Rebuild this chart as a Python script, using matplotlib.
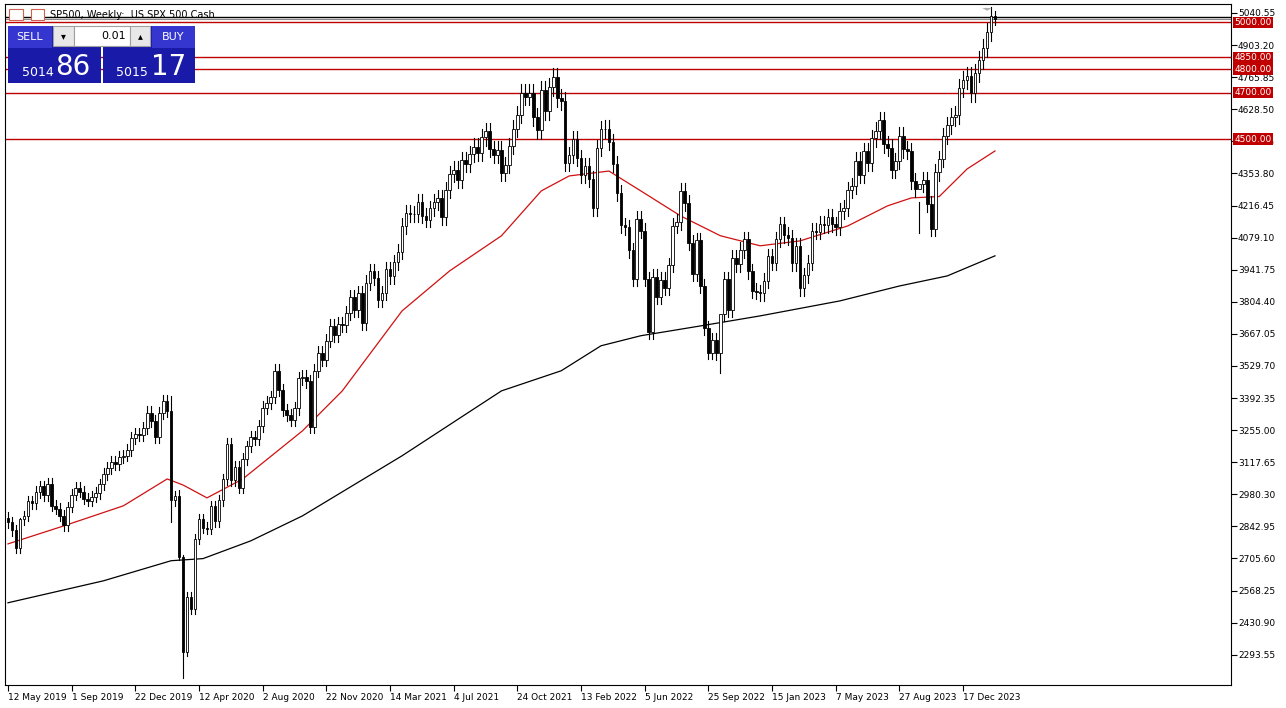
import numpy as np
import matplotlib
matplotlib.use("Agg")
import matplotlib.pyplot as plt
from matplotlib.patches import Rectangle, Polygon

# weekly closes, week of 12 May 2019 .. week of 11 Feb 2024
closes = [
    # 2019
    2860, 2826, 2752, 2873, 2887, 2950, 2942, 2990, 3014, 2977, 3026, 2932, 2919, 2889, 2847, 2926,
    2979, 3007, 2992, 2961, 2952, 2970, 2986, 3023, 3067, 3093, 3120, 3110, 3141, 3146, 3169, 3221,
    3240, 3235,
    # 2020
    3265, 3330, 3295, 3225, 3328, 3380, 3338, 2954, 2972, 2711, 2305, 2541, 2489, 2790, 2875, 2837,
    2831, 2930, 2864, 2955, 3044, 3194, 3041, 3098, 3009, 3130, 3185, 3225, 3216, 3271, 3351, 3373,
    3397, 3508, 3427, 3341, 3319, 3298, 3348, 3477, 3483, 3465, 3270, 3509, 3585, 3557, 3638, 3699,
    3663, 3709, 3703, 3756,
    # 2021
    3824, 3768, 3841, 3714, 3886, 3934, 3906, 3811, 3842, 3943, 3913, 3974, 4019, 4128, 4185, 4180,
    4181, 4232, 4173, 4156, 4204, 4230, 4247, 4166, 4281, 4352, 4370, 4327, 4411, 4395, 4437, 4468,
    4441, 4509, 4535, 4459, 4433, 4455, 4357, 4391, 4471, 4545, 4605, 4697, 4683, 4698, 4595, 4538,
    4712, 4620, 4725, 4766,
    # 2022
    4677, 4663, 4398, 4432, 4500, 4419, 4349, 4385, 4329, 4204, 4463, 4543, 4546, 4488, 4393, 4272,
    4132, 4123, 4024, 3901, 4158, 4109, 3901, 3675, 3912, 3825, 3899, 3863, 3962, 4130, 4145, 4280,
    4228, 4058, 3924, 4067, 3873, 3693, 3586, 3640, 3583, 3753, 3901, 3771, 3993, 3965, 4026, 4072,
    3934, 3852, 3845, 3840,
    # 2023
    3895, 3999, 3972, 4071, 4136, 4090, 4079, 3970, 4045, 3862, 3917, 3971, 4109, 4105, 4138, 4133,
    4169, 4136, 4124, 4192, 4205, 4282, 4299, 4409, 4348, 4450, 4399, 4505, 4536, 4582, 4478, 4464,
    4370, 4406, 4516, 4457, 4450, 4320, 4288, 4309, 4327, 4224, 4117, 4358, 4415, 4514, 4559, 4595,
    4604, 4719, 4755, 4770,
    # 2024
    4697, 4784, 4840, 4891, 4959, 5027, 5015,
]
first_open = 2880
# notable wick extremes (week index: (low, high))
wick_overrides = {44: (2192, 2720), 3: (2730, 2880), 43: (2700, 3000), 41: (2860, 3400),
                  179: (3500, 3680), 229: (4100, 4230), 248: (4990, 5048)}

# moving averages (week index, price)
ma50_wk = [0, 14, 29, 40, 44, 50, 59, 74, 84, 99, 111, 124, 134, 141, 151, 159, 169, 179, 189,
           199, 211, 221, 227, 234, 241, 248]
ma50_px = [2768, 2845, 2931, 3046, 3020, 2965, 3046, 3252, 3423, 3765, 3937, 4087, 4279, 4343,
           4364, 4279, 4172, 4087, 4044, 4065, 4129, 4215, 4249, 4255, 4373, 4450]
ma200_wk = [0, 24, 41, 49, 61, 74, 99, 124, 139, 149, 159, 174, 189, 209, 224, 236, 248]
ma200_px = [2516, 2610, 2696, 2705, 2781, 2888, 3145, 3423, 3509, 3616, 3659, 3701, 3744, 3808,
            3872, 3915, 4001]

levels = [5000, 4850, 4800, 4700, 4500]
date_labels = ["12 May 2019", "1 Sep 2019", "22 Dec 2019", "12 Apr 2020", "2 Aug 2020",
               "22 Nov 2020", "14 Mar 2021", "4 Jul 2021", "24 Oct 2021", "13 Feb 2022",
               "5 Jun 2022", "25 Sep 2022", "15 Jan 2023", "7 May 2023", "27 Aug 2023",
               "17 Dec 2023"]
price_ticks = [2293.55 + 137.35 * k for k in range(21)]

W, H = 1286, 708
fig = plt.figure(figsize=(W / 100, H / 100), dpi=100)
ax = fig.add_axes([5 / W, 1 - 685 / H, (1231 - 5) / W, (685 - 4) / H])
ymin, ymax = 2164, 5079
ax.set_ylim(ymin, ymax)
ax.set_xlim(-0.75, 307.3)

# candles
opens = [first_open] + closes[:-1]
for i, (o, c) in enumerate(zip(opens, closes)):
    lo, hi = min(o, c), max(o, c)
    wl, wh = wick_overrides.get(i, (lo - lo * 0.008, hi + hi * 0.008))
    ax.plot([i, i], [wl, wh], color="black", lw=0.8, zorder=3)
    face = "white" if c >= o else "black"
    ax.add_patch(Rectangle((i - 0.33, lo), 0.66, max(hi - lo, 1.5), facecolor=face,
                           edgecolor="black", lw=0.6, zorder=4))

ax.plot(ma50_wk, ma50_px, color="#d01010", lw=0.9, zorder=2)
ax.plot(ma200_wk, ma200_px, color="black", lw=0.9, zorder=2)

# horizontal levels
for lv in levels:
    ax.axhline(lv, color="#c00000", lw=1, zorder=1)
ax.axhline(5014.86, color="#888888", lw=0.8, zorder=1)
ax.axhline(5022, color="black", lw=1, zorder=1)
ax.add_patch(Polygon([(244.8, 5062), (247.2, 5062), (246, 5050)], closed=True,
                     facecolor="#b0b0b0", edgecolor="none", zorder=5))

# axes styling
for s in ax.spines.values():
    s.set_linewidth(0.8)
ax.yaxis.tick_right()
ax.set_yticks(price_ticks)
ax.set_yticklabels(["%.2f" % p for p in price_ticks], fontsize=6.5)
ax.tick_params(axis="y", length=4, width=0.8, pad=1)
ax.set_xticks([16 * k for k in range(len(date_labels))])
ax.set_xticklabels(date_labels, fontsize=6.5, ha="left")
ax.tick_params(axis="x", length=4, width=0.8, pad=2)

for lv in levels:
    ax.text(1.003, lv, "%.2f" % lv, transform=ax.get_yaxis_transform(), fontsize=6.5,
            color="white", va="center", ha="left", zorder=10,
            bbox=dict(boxstyle="square,pad=0.15", facecolor="#c00000", edgecolor="none"))

# title
fig.text(50 / W, 1 - 15 / H, "SP500, Weekly:  US SPX 500 Cash", fontsize=7, va="center")
fig.patches.append(Rectangle((9 / W, 1 - 20 / H), 14 / W, 11 / H, transform=fig.transFigure,
                             facecolor="white", edgecolor="#d06050", lw=0.8))
fig.patches.append(Rectangle((31 / W, 1 - 20 / H), 13 / W, 11 / H, transform=fig.transFigure,
                             facecolor="white", edgecolor="#d06050", lw=0.8))

# one-click trading panel
def fbox(x, y, w, h, fc, ec="none"):
    fig.patches.append(Rectangle((x / W, 1 - (y + h) / H), w / W, h / H,
                                 transform=fig.transFigure, facecolor=fc, edgecolor=ec,
                                 lw=0.8, zorder=20))

fbox(8, 26, 93, 57, "#1a1aa8")
fbox(103, 26, 92, 57, "#1a1aa8")
fbox(8, 26, 44, 22, "#3535d0")
fbox(152, 26, 43, 22, "#3535d0")
fbox(53, 26, 21, 20, "#e8e8e8", "#a0a0a0")
fbox(74, 26, 56, 20, "white", "#a0a0a0")
fbox(130, 26, 20, 20, "#e8e8e8", "#a0a0a0")
fig.text(30 / W, 1 - 37 / H, "SELL", color="white", fontsize=8, ha="center", va="center", zorder=21)
fig.text(173 / W, 1 - 37 / H, "BUY", color="white", fontsize=8, ha="center", va="center", zorder=21)
fig.text(126 / W, 1 - 36 / H, "0.01", color="black", fontsize=8, ha="right", va="center", zorder=21)
fig.text(63 / W, 1 - 36 / H, "\u25be", color="black", fontsize=7, ha="center", va="center", zorder=21)
fig.text(140 / W, 1 - 36 / H, "\u25b4", color="black", fontsize=7, ha="center", va="center", zorder=21)
fig.text(22 / W, 1 - 72 / H, "5014", color="white", fontsize=9, ha="left", va="center", zorder=21)
fig.text(55 / W, 1 - 67 / H, "86", color="white", fontsize=20, ha="left", va="center", zorder=21)
fig.text(116 / W, 1 - 72 / H, "5015", color="white", fontsize=9, ha="left", va="center", zorder=21)
fig.text(151 / W, 1 - 67 / H, "17", color="white", fontsize=20, ha="left", va="center", zorder=21)

fig.savefig("out.png", dpi=100)
